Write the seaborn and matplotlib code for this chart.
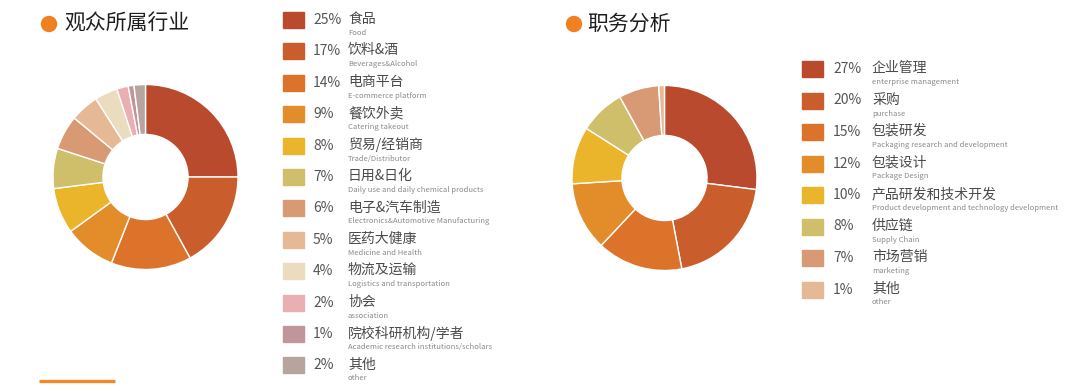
import matplotlib
matplotlib.use("Agg")
import matplotlib.pyplot as plt
import seaborn as sns
from matplotlib.patches import Rectangle, Circle

sns.set_theme(style="white")
plt.rcParams['font.family'] = ['Noto Sans CJK SC', 'DejaVu Sans']

# ---------- data ----------
ind_cn = ["食品", "饮料&酒", "电商平台", "餐饮外卖", "贸易/经销商", "日用&日化",
          "电子&汽车制造", "医药大健康", "物流及运输", "协会", "院校科研机构/学者", "其他"]
ind_en = ["Food", "Beverages&Alcohol", "E-commerce platform", "Catering takeout",
          "Trade/Distributor", "Daily use and daily chemical products",
          "Electronics&Automotive Manufacturing", "Medicine and Health",
          "Logistics and transportation", "association",
          "Academic research institutions/scholars", "other"]
ind_val = [25, 17, 14, 9, 8, 7, 6, 5, 4, 2, 1, 2]
ind_col = ["#B94A2E", "#C95E2C", "#DD722A", "#E38C2A", "#EAB52A", "#CFBE6A",
           "#D79A74", "#E5B996", "#EBDBBF", "#E9AFB3", "#C1959C", "#B8A49E"]

job_cn = ["企业管理", "采购", "包装研发", "包装设计", "产品研发和技术开发", "供应链",
          "市场营销", "其他"]
job_en = ["enterprise management", "purchase", "Packaging research and development",
          "Package Design", "Product development and technology development",
          "Supply Chain", "marketing", "other"]
job_val = [27, 20, 15, 12, 10, 8, 7, 1]
job_col = ["#B94A2E", "#C95E2C", "#DD722A", "#E38C2A", "#EAB52A", "#CFBE6A",
           "#D79A74", "#E5B996"]

titles = ["观众所属行业", "职务分析"]

W, H = 1080, 391
fig = plt.figure(figsize=(W / 100, H / 100), dpi=100)
fig.patch.set_facecolor("white")

def pie_axes(cx, cy, r):
    ax = fig.add_axes([(cx - r) / W, 1 - (cy + r) / H, 2 * r / W, 2 * r / H])
    return ax

def draw_pie(ax, vals, cols):
    ax.pie(vals, colors=cols, startangle=90, counterclock=False,
           wedgeprops=dict(width=0.54, edgecolor="white", linewidth=1.0))
    ax.set_xlim(-1, 1)
    ax.set_ylim(-1, 1)
    ax.set_aspect("equal")
    ax.axis("off")

draw_pie(pie_axes(145.5, 177, 92.5), ind_val, ind_col)
draw_pie(pie_axes(664.5, 178, 92.5), job_val, job_col)

# overlay for text / legend
ov = fig.add_axes([0, 0, 1, 1], zorder=-1)
ov.set_xlim(0, W)
ov.set_ylim(H, 0)
ov.axis("off")

def title(x_dot, y, text, x_text):
    ov.add_patch(Circle((x_dot, y), 7.5, color="#F08020", zorder=3))
    ov.text(x_text, y, text, fontsize=15, color="#1e1e1e", va="center", ha="left")

title(49, 24, titles[0], 64)
title(574, 24, titles[1], 587)

def legend(x_sq, y0, step, cn, en, vals, cols, x_pct, x_cn):
    for i, (c, e, v, col) in enumerate(zip(cn, en, vals, cols)):
        y = y0 + i * step
        ov.add_patch(Rectangle((x_sq, y - 8), 21, 16, color=col, zorder=3))
        ov.text(x_pct, y, f"{v}%", fontsize=10, color="#555555", va="center", ha="left")
        ov.text(x_cn, y - 1, c, fontsize=10, color="#4a4a4a", va="center", ha="left")
        ov.text(x_cn, y + 13, e, fontsize=5.5, color="#8a8a8a", va="center", ha="left")

legend(283, 20, 31.4, ind_cn, ind_en, ind_val, ind_col, 313, 348)
legend(802, 69, 31.5, job_cn, job_en, job_val, job_col, 833, 872)

ov.plot([39, 115], [381, 381], color="#F08A24", linewidth=2.4, solid_capstyle="butt")

fig.savefig("out.png", dpi=100, facecolor="white")
